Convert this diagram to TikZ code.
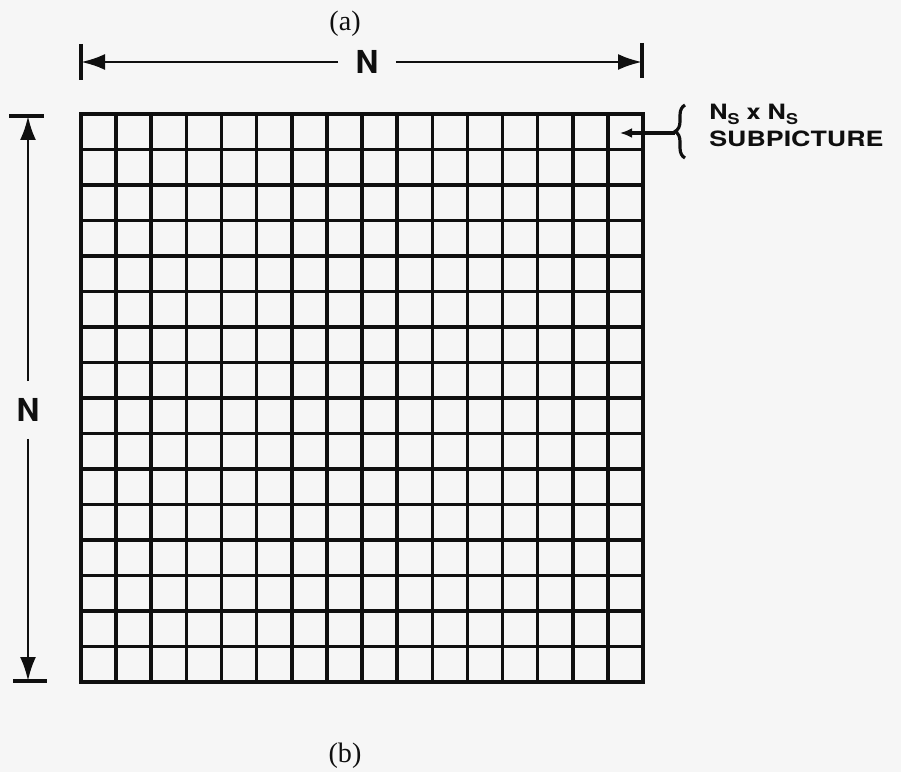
\documentclass[tikz,border=0pt]{standalone}
\usepackage{fontspec}
\setsansfont{TeX Gyre Heros}
\setmainfont{Liberation Serif}
\usepackage{xcolor}
\usepackage{tikz}
\usetikzlibrary{arrows.meta,decorations.pathreplacing}

\definecolor{paper}{gray}{0.965}
\definecolor{ink}{gray}{0.06}

\begin{document}
\begin{tikzpicture}[x=0.2mm, y=-0.2mm, draw=ink, font=\sffamily\bfseries, lbl/.style={font=\fontsize{18}{20}\selectfont\sffamily\bfseries, text=ink, inner sep=3.4mm}, captxt/.style={font=\fontsize{16}{18}\selectfont\rmfamily, text=ink}, dim/.style={-{Latex[length=4.8mm,width=3.2mm]}, line width=1.6pt}, tick/.style={line width=1.8pt}, cell/.style={line width=2pt}, ptr/.style={-{Latex[length=2.4mm,width=2mm]}, line width=1.8pt}]
\fill[paper] (0,0) rectangle (901,772);
\useasboundingbox (0,0) rectangle (901,772);
% grid of subpictures
\coordinate (nw) at (81,114);
\coordinate (se) at (643,682);
\foreach \i in {1,...,15} {
  \draw[cell] (81+\i*35.125,114) -- (81+\i*35.125,682);
  \draw[cell] (81,114+\i*35.5) -- (643,114+\i*35.5);
}
\draw[line width=2.8pt] (nw) rectangle (se);
\node[captxt] (capa) at (345,24) {(a)};
\node[captxt] (capb) at (345,756) {(b)};
% width
\coordinate (wl) at (81,62);
\coordinate (wr) at (642,62);
\draw[tick] (81,44) -- (81,80);
\draw[tick] (642,43) -- (642,78);
\node[lbl] (nw lbl) at (367,62) {N};
\draw[dim] (nw lbl) -- (wl);
\draw[dim] (nw lbl) -- (wr);
% height
\coordinate (ht) at (28,116);
\coordinate (hb) at (28,681);
\draw[tick] (9,116) -- (44,116);
\draw[tick] (13,681) -- (47,681);
\node[lbl] (nh lbl) at (28,410) {N};
\draw[dim] (nh lbl) -- (ht);
\draw[dim] (nh lbl) -- (hb);
% subpicture label
\coordinate (cellpt) at (620,133);
\coordinate (btip) at (675,133);
\draw[line width=1.8pt, decorate, decoration={brace, amplitude=2mm}] (685,158) -- (685,105);
\draw[ptr] (btip) -- (cellpt);
\node[anchor=north west, inner sep=0pt, align=left, text=ink, font=\fontsize{12}{15}\selectfont\sffamily\bfseries] (sub) at (709,104) {\scalebox{1.2}[1]{N\raisebox{-0.45ex}{\fontsize{8.5}{8.5}\selectfont S} x N\raisebox{-0.45ex}{\fontsize{8.5}{8.5}\selectfont S}}\\\scalebox{1.27}[1]{SUBPICTURE}};
\end{tikzpicture}
\end{document}
